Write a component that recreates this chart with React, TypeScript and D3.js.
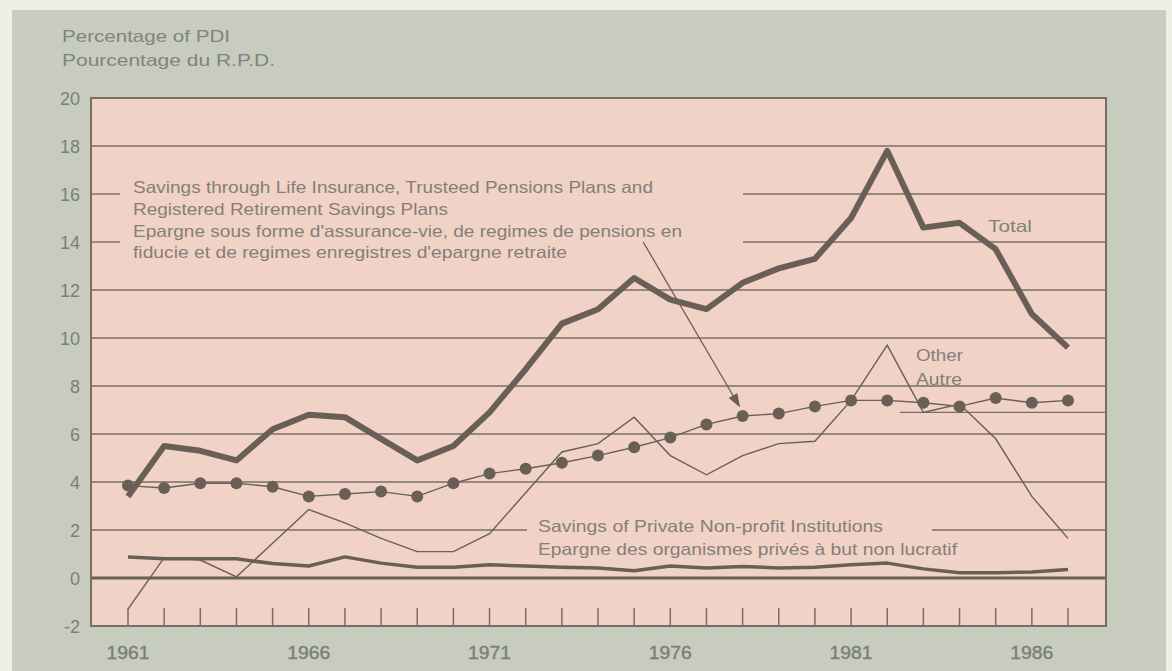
import React from "react";
import * as d3 from "d3";

const years = [1961,1962,1963,1964,1965,1966,1967,1968,1969,1970,1971,1972,1973,1974,1975,1976,1977,1978,1979,1980,1981,1982,1983,1984,1985,1986,1987];
const total = [3.4,5.5,5.3,4.9,6.2,6.8,6.7,5.8,4.9,5.5,6.9,8.7,10.6,11.2,12.5,11.6,11.2,12.3,12.9,13.3,15.0,17.8,14.6,14.8,13.7,11.0,9.6];
const lifeInsurance = [3.85,3.75,3.95,3.95,3.8,3.4,3.5,3.6,3.4,3.95,4.35,4.55,4.8,5.1,5.45,5.85,6.4,6.75,6.85,7.15,7.4,7.4,7.3,7.15,7.5,7.3,7.4];
const other = [-1.3,0.85,0.75,0.05,1.45,2.85,2.3,1.65,1.1,1.1,1.85,3.55,5.25,5.6,6.7,5.1,4.3,5.1,5.6,5.7,7.4,9.7,6.9,7.25,5.8,3.4,1.65];
const nonProfit = [0.88,0.8,0.8,0.8,0.6,0.5,0.88,0.62,0.45,0.45,0.55,0.5,0.45,0.42,0.3,0.5,0.42,0.48,0.42,0.45,0.55,0.62,0.38,0.22,0.22,0.25,0.35];
const yTicks = [-2,0,2,4,6,8,10,12,14,16,18,20];
const gridValues = [2,4,6,8,10,12,14,16,18];
const xLabels = [1961,1966,1971,1976,1981,1986];

const LINE = "#6a5f56";
const GRID = "#7a6e63";
const TEXT = "#857f78";
const AXIS_TEXT = "#7a7f78";
const FONT = "'Liberation Sans', Arial, Helvetica, sans-serif";

export default function App() {
  const x = d3.scaleLinear().domain([1961, 1987]).range([128, 1068]);
  const y = d3.scaleLinear().domain([-2, 20]).range([626, 98]);
  const left = 91, right = 1106, top = y(20), bottom = y(-2);

  const mk = (vals: number[]) =>
    d3.line<number>().x((_, i) => x(years[i])).y((v) => y(v))(vals) || "";

  const gridSegs = (v: number): [number, number][] => {
    if (v === 14 || v === 16) return [[left, 120], [743, right]];
    if (v === 2) return [[left, 527], [932, right]];
    return [[left, right]];
  };

  const arrowStart = [x(1975.25), y(14.0)];
  const arrowEnd = [x(1977.93), y(7.1)];
  const ang = Math.atan2(arrowEnd[1] - arrowStart[1], arrowEnd[0] - arrowStart[0]);
  const ah = 14, aw = 5;
  const bx = arrowEnd[0] - ah * Math.cos(ang), by = arrowEnd[1] - ah * Math.sin(ang);
  const head = `M${arrowEnd[0]},${arrowEnd[1]} L${bx + aw * Math.sin(ang)},${by - aw * Math.cos(ang)} L${bx - aw * Math.sin(ang)},${by + aw * Math.cos(ang)} Z`;

  const t = (s: string, xx: number, yy: number, len: number | null, size = 16.5, anchor = "start", fill = TEXT) => (
    <text x={xx} y={yy} fontSize={size} fill={fill} textAnchor={anchor}
      {...(len ? { textLength: len, lengthAdjust: "spacingAndGlyphs" } : {})}>{s}</text>
  );

  return (
    <div style={{ position: "absolute", left: 0, top: 0 }}>
      <svg width={1172} height={671} style={{ display: "block", fontFamily: FONT }}>
        <rect x={0} y={0} width={1172} height={671} fill="#eef0e8" />
        <rect x={12} y={10} width={1154} height={661} fill="#c8ccbe" />
        <rect x={left} y={top} width={right - left} height={bottom - top} fill="#f1d2c6" />

        {gridValues.map((v) =>
          gridSegs(v).map(([a, b], k) => (
            <line key={`${v}-${k}`} x1={a} x2={b} y1={y(v)} y2={y(v)} stroke={GRID} strokeWidth={1.4} />
          ))
        )}
        <line x1={900} x2={right} y1={y(6.9)} y2={y(6.9)} stroke={GRID} strokeWidth={1.4} />
        <line x1={left} x2={right} y1={y(0)} y2={y(0)} stroke={LINE} strokeWidth={3} />

        {years.map((yr) => (
          <line key={yr} x1={x(yr)} x2={x(yr)} y1={bottom} y2={bottom - 18} stroke={GRID} strokeWidth={1.5} />
        ))}

        <rect x={left} y={top} width={right - left} height={bottom - top} fill="none" stroke={GRID} strokeWidth={2} />

        <path d={mk(other)} fill="none" stroke={LINE} strokeWidth={1.4} />
        <path d={mk(nonProfit)} fill="none" stroke={LINE} strokeWidth={3.5} strokeLinejoin="round" />
        <path d={mk(lifeInsurance)} fill="none" stroke={LINE} strokeWidth={1.4} />
        {lifeInsurance.map((v, i) => (
          <circle key={i} cx={x(years[i])} cy={y(v)} r={6} fill={LINE} />
        ))}
        <path d={mk(total)} fill="none" stroke={LINE} strokeWidth={6} strokeLinejoin="round" />

        <line x1={arrowStart[0]} y1={arrowStart[1]} x2={bx} y2={by} stroke={LINE} strokeWidth={1.3} />
        <path d={head} fill={LINE} />

        {yTicks.map((v) => (
          <text key={v} x={80} y={y(v) + 6.5} fontSize={18} fill={AXIS_TEXT} textAnchor="end">{v}</text>
        ))}
        {xLabels.map((yr) => (
          <text key={yr} x={x(yr)} y={659} fontSize={17.5} fill={AXIS_TEXT} textAnchor="middle"
            textLength={43} lengthAdjust="spacingAndGlyphs" stroke={AXIS_TEXT} strokeWidth={0.4}>{yr}</text>
        ))}

        {t("Percentage of PDI", 62, 42, 168, 16.5, "start", "#7f847c")}
        {t("Pourcentage du R.P.D.", 62, 66, 213, 16.5, "start", "#7f847c")}

        {t("Savings through Life Insurance, Trusteed Pensions Plans and", 133, 193, 520)}
        {t("Registered Retirement Savings Plans", 133, 215, 315)}
        {t("Epargne sous forme d'assurance-vie, de regimes de pensions en", 133, 237, 549)}
        {t("fiducie et de regimes enregistres d'epargne retraite", 133, 258, 434)}

        {t("Total", 988, 232, 44)}
        {t("Other", 916, 361, 47)}
        {t("Autre", 916, 385, 46)}

        {t("Savings of Private Non-profit Institutions", 538, 532, 345)}
        {t("Epargne des organismes privés à but non lucratif", 538, 555, 419)}
      </svg>
    </div>
  );
}
